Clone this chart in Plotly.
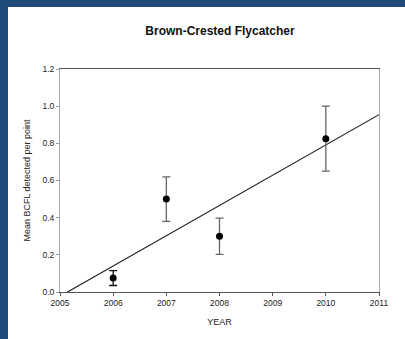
import numpy as np
import plotly.graph_objects as go

# Survey data
years = [2006, 2007, 2008, 2010]
mean_bcfl = [0.075, 0.50, 0.30, 0.825]
err_bcfl = [0.04, 0.12, 0.097, 0.175]
err_colors = ["#111111", "#666666", "#666666", "#666666"]

x_ticks = [2005, 2006, 2007, 2008, 2009, 2010, 2011]
y_ticks = [0.0, 0.2, 0.4, 0.6, 0.8, 1.0, 1.2]

W, H = 405, 339
L, R, T, B = 60, 26, 69, 47
pw, ph = W - L - R, H - T - B

fig = go.Figure()

# linear regression of mean vs year
slope, intercept = np.polyfit(years, mean_bcfl, 1)
x0 = -intercept / slope
x1 = x_ticks[-1]
fig.add_trace(go.Scatter(x=[x0, x1], y=[slope * x0 + intercept, slope * x1 + intercept],
                         mode="lines", line=dict(color="#222222", width=1.2),
                         showlegend=False, hoverinfo="skip"))

for xv, yv, ev, c in zip(years, mean_bcfl, err_bcfl, err_colors):
    fig.add_trace(go.Scatter(
        x=[xv], y=[yv], mode="markers",
        marker=dict(color="black", size=7),
        error_y=dict(type="data", array=[ev], color=c, thickness=1.3, width=4),
        showlegend=False))

# dark frame strips along the top and left edges
px = lambda v: (v - L) / pw
py = lambda v: (H - B - v) / ph
fig.add_shape(type="rect", xref="paper", yref="paper", x0=px(0), x1=px(W), y0=py(7), y1=py(0),
              fillcolor="#1f4a7a", line_width=0, layer="above")
fig.add_shape(type="rect", xref="paper", yref="paper", x0=px(0), x1=px(8), y0=py(H), y1=py(0),
              fillcolor="#1f4a7a", line_width=0, layer="above")

font = "Liberation Sans, Arial, sans-serif"
fig.update_layout(
    width=W, height=H,
    margin=dict(l=L, r=R, t=T, b=B),
    paper_bgcolor="white", plot_bgcolor="white",
    font=dict(family=font, size=8.5, color="#222222"),
    title=dict(text="<b>Brown-Crested Flycatcher</b>", x=220 / W, xanchor="center",
               y=1 - 31 / H, yanchor="middle", font=dict(size=12, color="#111111")),
    xaxis=dict(range=[2005, 2011], tickvals=x_ticks, ticks="outside", ticklen=3,
               tickcolor="#555555", showline=True, linecolor="#555555", linewidth=1,
               mirror=True, showgrid=False, zeroline=False,
               title=dict(text="YEAR", standoff=11, font=dict(size=9))),
    yaxis=dict(range=[0, 1.2], tickvals=y_ticks, tickformat=".1f", ticks="outside", ticklen=3,
               tickcolor="#999999", showline=True, linecolor="#aaaaaa", linewidth=1,
               mirror=True, showgrid=False, zeroline=False,
               title=dict(text="Mean BCFL detected per point", standoff=10, font=dict(size=9))),
)

fig.write_html("out.html")
